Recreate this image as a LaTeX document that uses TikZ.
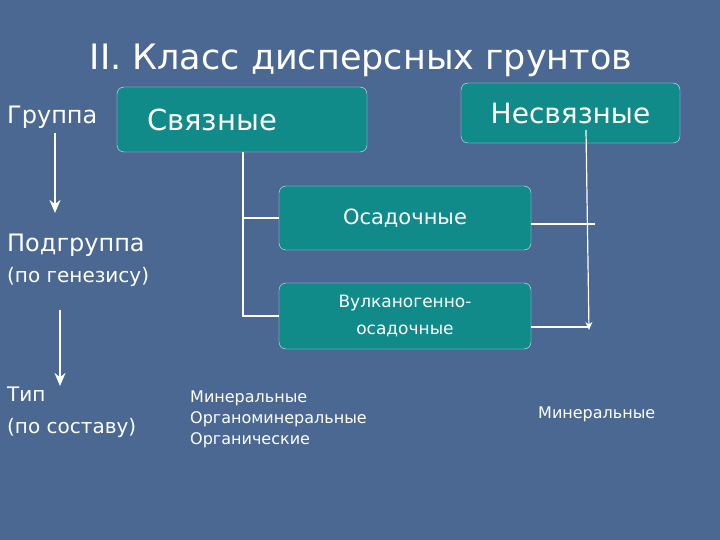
\documentclass[tikz,border=0pt]{standalone}
\usepackage{fontspec}
\setmainfont{DejaVu Sans}
\usetikzlibrary{arrows.meta}
\definecolor{bg}{HTML}{4A6892}
\definecolor{tealbox}{HTML}{118A8A}
\tikzset{
  box/.style={draw=white!85!tealbox, fill=tealbox, rounded corners=7pt, text=white, align=center, inner sep=0pt},
  lbl/.style={text=white, anchor=west, inner sep=0pt},
  conn/.style={draw=white, line width=1.2pt},
  arr/.style={conn, -{Stealth[length=8pt,width=7pt]}},
  bigarr/.style={draw=white, line width=2.2pt, -{Stealth[length=13pt,width=11pt]}}
}
\begin{document}
\begin{tikzpicture}[x=1pt,y=-1pt]
\fill[bg] (0,0) rectangle (720,540);
\useasboundingbox (0,0) rectangle (720,540);
\node[text=white, font=\fontsize{35}{40}\selectfont] (title) at (361,60) {II. Класс дисперсных грунтов};
\node[box, minimum width=250pt, minimum height=65pt, font=\fontsize{29}{33}\selectfont] (sv) at (242,119.5) {\hspace*{-2pt}Связные\hspace*{58pt}};
\node[box, minimum width=219pt, minimum height=60pt, font=\fontsize{28}{32}\selectfont] (nsv) at (570.5,113) {Несвязные};
\node[box, minimum width=252pt, minimum height=64pt, font=\fontsize{21}{24}\selectfont] (osad) at (405,218) {Осадочные};
\node[box, minimum width=252pt, minimum height=66pt, font=\fontsize{17}{27}\selectfont] (vulk) at (405,316) {Вулканогенно-\\осадочные};
\coordinate (a) at (243,152);
\coordinate (b) at (243,218);
\coordinate (c) at (243,316);
\draw[conn] (a) -- (c) -- (vulk.west);
\draw[conn] (b) -- (osad.west);
\coordinate (r1) at (595,224);
\coordinate (r2) at (590,327);
\coordinate (s) at (586,130);
\coordinate (e) at (589,330);
\draw[conn] (osad.east |- r1) -- (r1);
\draw[conn] (vulk.east |- r2) -- (r2);
\draw[arr] (s) -- (e);
\node[lbl, font=\fontsize{24}{28}\selectfont] (gr) at (7,117) {Группа};
\node[lbl, font=\fontsize{24}{28}\selectfont] (pg) at (7,245) {Подгруппа};
\node[lbl, font=\fontsize{20}{24}\selectfont] (pgen) at (7,277) {(по генезису)};
\node[lbl, font=\fontsize{20}{32}\selectfont, align=left] (tip) at (7,412) {Тип\\(по составу)};
\coordinate (g1) at (55,133);
\coordinate (g2) at (55,213);
\coordinate (t1) at (60,310);
\coordinate (t2) at (60,386);
\draw[bigarr] (g1) -- (g2);
\draw[bigarr] (t1) -- (t2);
\node[lbl, font=\fontsize{16}{21}\selectfont, align=left] (min1) at (190,419) {Минеральные\\Органоминеральные\\Органические};
\node[lbl, font=\fontsize{16}{18}\selectfont] (min2) at (538,414) {Минеральные};
\end{tikzpicture}
\end{document}
